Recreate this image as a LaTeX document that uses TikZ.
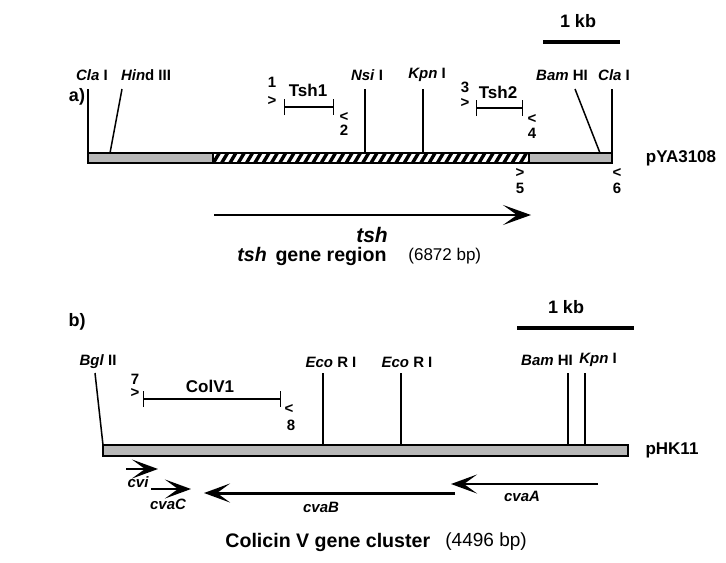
\documentclass[tikz,border=0pt]{standalone}
\usepackage{fontspec}
\setmainfont{Liberation Sans}
\usetikzlibrary{arrows.meta}
\begin{document}
\begin{tikzpicture}[
        x=0.5pt, y=-0.5pt,
        font=\bfseries,
        sitelab/.style={font=\fontsize{7.5}{8}\selectfont\bfseries, inner sep=0pt},
        siteline/.style={line width=0.75pt},
        segment/.style={draw, line width=0.6pt, fill=black!28},
        amplicon/.style={line width=1.4pt, {Bar[width=8pt,line width=0.7pt]}-{Bar[width=8pt,line width=0.7pt]}},
        amplab/.style={font=\fontsize{8.5}{10}\selectfont\bfseries, inner sep=0pt},
        primer/.style={font=\fontsize{7.5}{8}\selectfont\bfseries, inner sep=0pt},
        gene/.style={line width=1.4pt, -{Stealth[length=13pt,width=9.5pt,inset=6.5pt]}},
        genelab/.style={font=\fontsize{7.5}{8}\selectfont\bfseries\itshape, inner sep=0pt},
        kbbar/.style={line width=2.3pt},
        plasmid/.style={font=\fontsize{8.5}{10}\selectfont\bfseries, inner sep=0pt},
        caption/.style={font=\fontsize{9.8}{11}\selectfont\bfseries, inner sep=0pt, anchor=west},
        size/.style={font=\fontsize{9.5}{11}\selectfont\mdseries, inner sep=0pt, anchor=west}
    ]
    \useasboundingbox (0,0) rectangle (726,562);

    % a) tsh region of pYA3108
    \node[font=\fontsize{9}{10}\selectfont\bfseries] (parta) at (77,97) {a)};
    \node[font=\fontsize{9}{10}\selectfont\bfseries] (kba) at (578,21) {1 kb};
    \coordinate (kbaL) at (543,42);
    \coordinate (kbaR) at (620,42);
    \draw[kbbar] (kbaL) -- (kbaR);

    \draw[segment] (88,153) rectangle (213,163);
    \draw[segment] (529,153) rectangle (612,163);
    \begin{scope}
        \clip (213,153) rectangle (529,163);
        \foreach \x in {205,213.3,...,535}
            \draw[line width=1.7pt] (\x,163) -- ({\x+6},153);
    \end{scope}
    \draw[line width=0.6pt] (213,153) rectangle (529,163);

    \node[sitelab] (claA) at (92,75) {\textit{Cla} I};
    \node[sitelab] (hind) at (146,75) {\textit{Hin}d III};
    \node[sitelab] (nsi) at (367,75) {\textit{Nsi} I};
    \node[sitelab] (kpnA) at (427,75) {\textit{Kpn} I};
    \node[sitelab] (bamA) at (562,75) {\textit{Bam} HI};
    \node[sitelab] (claB) at (614,75) {\textit{Cla} I};
    \foreach \name/\xt/\xb in {claA/88/88, hind/122/110, nsi/365/365, kpnA/423/423, bamA/575/600, claB/612/612} {
        \coordinate (\name t) at (\xt,89);
        \coordinate (\name b) at (\xb,153);
        \draw[siteline] (\name t) -- (\name b);
    }

    \coordinate (tshA) at (284,107);
    \coordinate (tshB) at (334,107);
    \draw[amplicon] (tshA) -- (tshB);
    \node[amplab] (tsh1) at (308,90) {Tsh1};
    \node[primer] (n1) at (272,82) {1};
    \node[primer] (g1) at (272,101) {>};
    \node[primer] (g2) at (344,117) {<};
    \node[primer] (n2) at (344,130) {2};

    \coordinate (tshC) at (476,108);
    \coordinate (tshD) at (523,108);
    \draw[amplicon] (tshC) -- (tshD);
    \node[amplab] (tsh2) at (498,92) {Tsh2};
    \node[primer] (n3) at (465,87) {3};
    \node[primer] (g3) at (465,103) {>};
    \node[primer] (g4) at (532,119) {<};
    \node[primer] (n4) at (532,133) {4};

    \node[primer] (g5) at (520,173) {>};
    \node[primer] (n5) at (520,188) {5};
    \node[primer] (g6) at (617,173) {<};
    \node[primer] (n6) at (617,188) {6};

    \node[plasmid] (pya) at (681,158) {pYA3108};

    \coordinate (tshS) at (214,215);
    \coordinate (tshE) at (531,215);
    \draw[gene, -{Stealth[length=14pt,width=10pt,inset=7pt]}] (tshS) -- (tshE);
    \node[font=\fontsize{10.5}{12}\selectfont\bfseries\itshape] (tshlab) at (372,235) {tsh};
    \node[caption] (capa) at (237,256) {\textit{tsh}\, gene region};
    \node[size, font=\fontsize{8.5}{10}\selectfont\mdseries] (sizea) at (408,256) {(6872 bp)};

    % b) Colicin V cluster of pHK11
    \node[font=\fontsize{9}{10}\selectfont\bfseries] (partb) at (77,322) {b)};
    \node[font=\fontsize{9}{10}\selectfont\bfseries] (kbb) at (566,307) {1 kb};
    \coordinate (kbbL) at (517,328);
    \coordinate (kbbR) at (634,328);
    \draw[kbbar] (kbbL) -- (kbbR);

    \draw[segment] (103,445) rectangle (628,456);

    \node[sitelab] (bgl) at (98,362) {\textit{Bgl} II};
    \node[sitelab] (ecoA) at (331,362) {\textit{Eco} R I};
    \node[sitelab] (ecoB) at (407,362) {\textit{Eco} R I};
    \node[sitelab] (bamB) at (547,360) {\textit{Bam} HI};
    \node[sitelab] (kpnB) at (598,360) {\textit{Kpn} I};
    \foreach \name/\xt/\xb in {bgl/95/103, ecoA/323/323, ecoB/401/401, bamB/568/568, kpnB/585/585} {
        \coordinate (\name t) at (\xt,373);
        \coordinate (\name b) at (\xb,445);
        \draw[siteline] (\name t) -- (\name b);
    }

    \coordinate (colA) at (143,399);
    \coordinate (colB) at (281,399);
    \draw[amplicon] (colA) -- (colB);
    \node[amplab] (colv) at (210,386) {ColV1};
    \node[primer] (n7) at (135,379) {7};
    \node[primer] (g7) at (135,393) {>};
    \node[primer] (g8) at (289,409) {<};
    \node[primer] (n8) at (291,425) {8};

    \node[plasmid] (phk) at (672,450) {pHK11};

    \coordinate (cviS) at (126,469);
    \coordinate (cviE) at (158,469);
    \coordinate (cvaCS) at (151,489);
    \coordinate (cvaCE) at (191,489);
    \coordinate (cvaBS) at (455,493);
    \coordinate (cvaBE) at (204,493);
    \coordinate (cvaAS) at (598,484);
    \coordinate (cvaAE) at (451,484);
    \draw[gene] (cviS) -- (cviE);
    \draw[gene] (cvaCS) -- (cvaCE);
    \draw[gene, line width=1.5pt] (cvaBS) -- (cvaBE);
    \draw[gene] (cvaAS) -- (cvaAE);
    \node[genelab] (cvi) at (138,482) {cvi};
    \node[genelab] (cvaC) at (168,504) {cvaC};
    \node[genelab] (cvaB) at (321,507) {cvaB};
    \node[genelab] (cvaA) at (522,496) {cvaA};

    \node[caption] (capb) at (225,542) {Colicin V gene cluster};
    \node[size] (sizeb) at (445,542) {(4496 bp)};
\end{tikzpicture}
\end{document}
